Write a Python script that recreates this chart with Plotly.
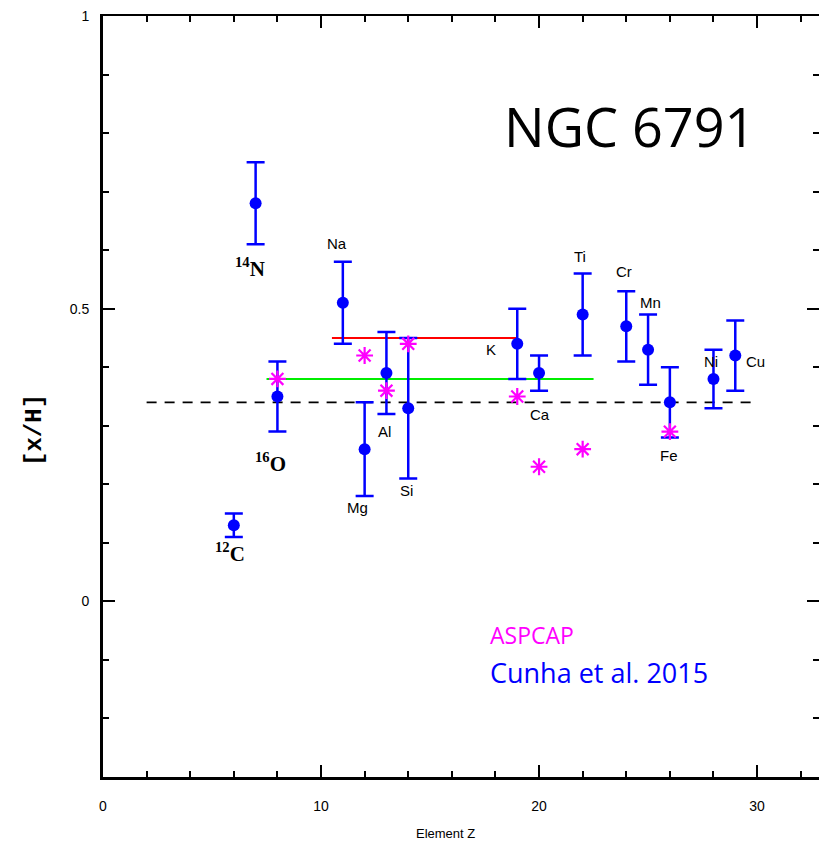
import plotly.graph_objects as go

# Cunha et al. 2015 abundances for NGC 6791
z_cunha = [6, 7, 8, 11, 12, 13, 14, 19, 20, 22, 24, 25, 26, 28, 29]
xh_cunha = [0.13, 0.68, 0.35, 0.51, 0.26, 0.39, 0.33, 0.44, 0.39, 0.49, 0.47, 0.43, 0.34, 0.38, 0.42]
err_cunha = [0.02, 0.07, 0.06, 0.07, 0.08, 0.07, 0.12, 0.06, 0.03, 0.07, 0.06, 0.06, 0.06, 0.05, 0.06]

# ASPCAP abundances
z_aspcap = [8, 12, 13, 14, 19, 20, 22, 26]
xh_aspcap = [0.38, 0.42, 0.36, 0.44, 0.35, 0.23, 0.26, 0.29]

# reference levels: [x_start, x_end], level
mean_level_x = [2, 30]
mean_level_y = 0.34
red_level_x = [10.5, 19]
red_level_y = 0.45
green_level_x = [7.5, 22.5]
green_level_y = 0.38

# element labels: text, x, y
element_labels = [
    ("<b><sup>14</sup>N</b>", 6.74, 0.571, "serif"),
    ("<b><sup>16</sup>O</b>", 7.66, 0.238, "serif"),
    ("<b><sup>12</sup>C</b>", 5.83, 0.084, "serif"),
    ("Na", 10.73, 0.611, "sans"),
    ("Mg", 11.65, 0.160, "sans"),
    ("Al", 12.90, 0.290, "sans"),
    ("Si", 13.94, 0.189, "sans"),
    ("K", 17.80, 0.430, "sans"),
    ("Ca", 20.05, 0.320, "sans"),
    ("Ti", 21.90, 0.590, "sans"),
    ("Cr", 23.90, 0.563, "sans"),
    ("Mn", 25.10, 0.511, "sans"),
    ("Fe", 25.96, 0.249, "sans"),
    ("Ni", 27.90, 0.410, "sans"),
    ("Cu", 29.95, 0.410, "sans"),
]

x_range = [0, 32.84]
y_range = [-0.3, 1.0]
x_ticks = [0, 10, 20, 30]
y_ticks = [0, 0.5, 1]
y_ticklabels = ["0", "0.5", "1"]

fig = go.Figure()

fig.add_trace(go.Scatter(
    x=mean_level_x, y=[mean_level_y] * 2, mode="lines",
    line=dict(color="black", width=1.6, dash="10px,8px"), hoverinfo="skip"))
fig.add_trace(go.Scatter(
    x=red_level_x, y=[red_level_y] * 2, mode="lines",
    line=dict(color="#ff0000", width=2), hoverinfo="skip"))
fig.add_trace(go.Scatter(
    x=green_level_x, y=[green_level_y] * 2, mode="lines",
    line=dict(color="#00ee00", width=2), hoverinfo="skip"))

fig.add_trace(go.Scatter(
    x=z_cunha, y=xh_cunha, mode="markers",
    marker=dict(color="#0000ff", size=12, symbol="circle"),
    error_y=dict(type="data", array=err_cunha, color="#0000ff", thickness=2.5, width=9)))

fig.add_trace(go.Scatter(
    x=z_aspcap, y=xh_aspcap, mode="markers",
    marker=dict(color="#ff00ff", size=14, symbol="asterisk-open",
                line=dict(color="#ff00ff", width=2.2))))

# invisible trace so the mirrored axes are drawn
fig.add_trace(go.Scatter(x=[0], y=[0], xaxis="x2", yaxis="y2",
                         mode="markers", marker=dict(opacity=0), hoverinfo="skip"))

sans = "Liberation Sans, Arial, sans-serif"
serif = "Liberation Serif, Times New Roman, serif"

for text, x, y, kind in element_labels:
    if kind == "serif":
        font = dict(family=serif, size=21, color="black")
    else:
        font = dict(family=sans, size=15, color="black")
    fig.add_annotation(x=x, y=y, text=text, showarrow=False, font=font,
                       xanchor="center", yanchor="middle")

fig.add_annotation(x=24.13, y=0.812, text="NGC 6791", showarrow=False,
                   font=dict(family="Open Sans", size=54, color="black"),
                   xanchor="center", yanchor="middle")
fig.add_annotation(x=17.66, y=-0.057, text="ASPCAP", showarrow=False,
                   font=dict(family="Open Sans", size=23, color="#ff00ff"),
                   xanchor="left", yanchor="middle")
fig.add_annotation(x=17.66, y=-0.122, text="Cunha et al. 2015", showarrow=False,
                   font=dict(family="Open Sans", size=27, color="#0000ff"),
                   xanchor="left", yanchor="middle")

# axis titles
fig.add_annotation(xref="paper", yref="paper", x=-0.095, y=0.456, text="<b>[x/H]</b>",
                   showarrow=False, textangle=-90,
                   font=dict(family="Liberation Mono, Courier New, monospace", size=24, color="black"),
                   xanchor="center", yanchor="middle")
fig.add_annotation(xref="paper", yref="paper", x=0.4777, y=-0.0736, text="Element Z",
                   showarrow=False, font=dict(family=sans, size=13, color="black"),
                   xanchor="center", yanchor="middle")

tickfont = dict(family=sans, size=14, color="black")

fig.update_layout(
    width=819, height=847,
    margin=dict(l=103, r=0, t=16, b=70),
    paper_bgcolor="white", plot_bgcolor="white",
    showlegend=False,
    xaxis=dict(range=x_range, tickvals=x_ticks, ticks="inside", ticklen=12, tickwidth=2,
               tickcolor="black", showline=True, linewidth=3, linecolor="black",
               showgrid=False, zeroline=False, tickfont=tickfont, ticklabelstandoff=14,
               minor=dict(dtick=2, ticks="inside", ticklen=6, tickwidth=2, tickcolor="black",
                          showgrid=False)),
    yaxis=dict(range=y_range, tickvals=y_ticks, ticktext=y_ticklabels, ticks="inside",
               ticklen=12, tickwidth=2, tickcolor="black", showline=True, linewidth=3,
               linecolor="black", showgrid=False, zeroline=False, tickfont=tickfont,
               ticklabelstandoff=8,
               minor=dict(dtick=0.1, ticks="inside", ticklen=6, tickwidth=2, tickcolor="black",
                          showgrid=False)),
    xaxis2=dict(range=x_range, overlaying="x", side="top", tickvals=x_ticks, ticks="inside",
                ticklen=12, tickwidth=2, tickcolor="black", showline=True, linewidth=1.5,
                linecolor="black", showticklabels=False, showgrid=False, zeroline=False,
                minor=dict(dtick=2, ticks="inside", ticklen=6, tickwidth=2, tickcolor="black",
                           showgrid=False)),
    yaxis2=dict(range=y_range, overlaying="y", side="right", tickvals=y_ticks, ticks="inside",
                ticklen=12, tickwidth=2, tickcolor="black", showline=False,
                showticklabels=False, showgrid=False, zeroline=False,
                minor=dict(dtick=0.1, ticks="inside", ticklen=6, tickwidth=2, tickcolor="black",
                           showgrid=False)),
)

fig.write_html("out.html")
